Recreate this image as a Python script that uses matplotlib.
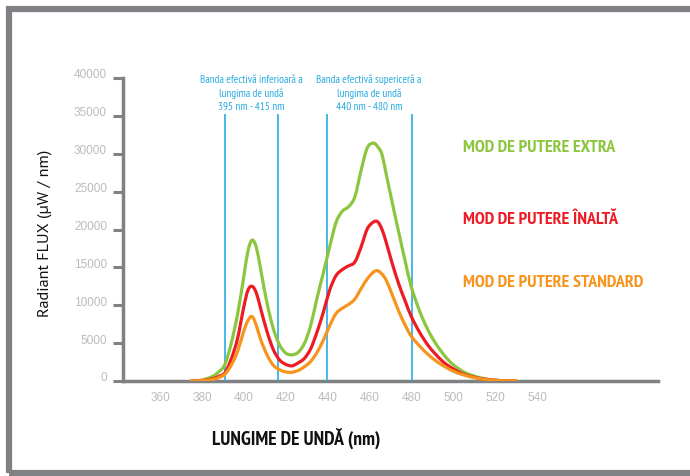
import matplotlib
matplotlib.use("Agg")
import matplotlib.pyplot as plt
from matplotlib import font_manager
from matplotlib.patches import Rectangle, PathPatch
from matplotlib.path import Path
from matplotlib.transforms import ScaledTranslation

# ---------------- data ----------------
wavelength = [375, 380, 385, 388, 391, 394, 397, 400, 402, 404, 406, 408, 411, 414, 417,
              420, 423, 426, 429, 432, 435, 438, 441, 444, 447, 450, 453, 456, 459, 462,
              464, 466, 468, 471, 474, 477, 480, 484, 488, 492, 496, 500, 505, 510, 515,
              520, 525, 530]
extra = [0, 120, 600, 1200, 2200, 5000, 8800, 13800, 17200, 18600, 17600, 14800, 10400, 7000, 4800,
         3700, 3450, 3800, 5000, 7400, 11000, 14300, 17700, 20900, 22400, 23000, 24300, 27800, 30800, 31400,
         30900, 29900, 27300, 23400, 19600, 15900, 12400, 9200, 6700, 4800, 3300, 2150, 1200, 650, 300,
         120, 30, 0]
inalta = [0, 60, 300, 600, 1100, 2900, 5600, 9800, 12000, 12500, 11600, 9600, 6600, 4200, 2800,
          2200, 2000, 2400, 3000, 4300, 6500, 9100, 12000, 13900, 14700, 15200, 15700, 17700, 20100, 21000,
          21000, 20000, 18300, 15400, 12800, 10600, 8500, 6400, 4700, 3400, 2350, 1600, 900, 500, 250,
          100, 20, 0]
standard = [0, 40, 200, 450, 900, 2100, 3900, 6600, 8000, 8500, 7300, 5500, 3500, 2100, 1500,
            1200, 1150, 1400, 1900, 2600, 3800, 5400, 7300, 8900, 9600, 10100, 10800, 12200, 13500, 14400,
            14550, 14100, 13300, 11300, 9200, 7400, 5900, 4600, 3500, 2600, 1900, 1300, 800, 450, 220,
            90, 20, 0]
band_lines = [391, 416.5, 439.5, 480.3]
xticks = [360, 380, 400, 420, 440, 460, 480, 500, 520, 540]
yticks = [0, 5000, 10000, 15000, 20000, 25000, 30000, 35000, 40000]
series_names = ["MOD DE PUTERE EXTRA", "MOD DE PUTERE ÎNALTĂ", "MOD DE PUTERE STANDARD"]
band_texts = ["Banda efectivă inferioară a\nlungima de undă\n395 nm - 415 nm",
              "Banda efectivă supericeră a\nlungima de undă\n440 nm - 480 nm"]

# ---------------- fonts ----------------
names = {f.name for f in font_manager.fontManager.ttflist}

def pick(cands):
    for c in cands:
        if c in names:
            return [c, 'DejaVu Sans']
    return ['DejaVu Sans']

condensed = pick(['PT Sans Narrow', 'Fira Sans Condensed', 'Roboto Condensed', 'Open Sans Condensed',
                  'Archivo Narrow', 'Encode Sans Condensed', 'Asap Condensed', 'Barlow Condensed',
                  'Liberation Sans Narrow'])
semi = pick(['PT Sans', 'Fira Sans', 'Open Sans', 'Noto Sans'])
helv = pick(['Liberation Sans', 'Arimo', 'DejaVu Sans'])
plt.rcParams['font.family'] = helv

W, H = 690, 477
fig = plt.figure(figsize=(W / 100, H / 100), dpi=100)

def fx(px):
    return px / W

def fy(py):
    return 1 - py / H

# frame
fig.patches.append(Rectangle((fx(9), fy(474)), fx(720) - fx(9), fy(10) - fy(474),
                             transform=fig.transFigure, fill=False,
                             edgecolor='#808184', linewidth=4.5))

ax = fig.add_axes([fx(123), fy(382), fx(658) - fx(123), fy(79) - fy(382)])
ax.set_xlim(342.3, 597.8)
ax.set_ylim(0, 40000)

green, red, orange, blue = '#8CC63F', '#ED1C24', '#F7941D', '#29ABE2'
gray = '#808184'

for xv in band_lines:
    ax.vlines(xv, 0, 35300, color=blue, linewidth=1.2, zorder=3)


def smooth_path(xs, ys):
    """Catmull-Rom spline through the data points, as cubic Bezier segments."""
    pts = list(zip(xs, ys))
    verts = [pts[0]]
    codes = [Path.MOVETO]
    n = len(pts)
    for i in range(n - 1):
        p0 = pts[i - 1] if i > 0 else pts[i]
        p1 = pts[i]
        p2 = pts[i + 1]
        p3 = pts[i + 2] if i + 2 < n else pts[i + 1]
        c1 = (p1[0] + (p2[0] - p0[0]) / 6, p1[1] + (p2[1] - p0[1]) / 6)
        c2 = (p2[0] - (p3[0] - p1[0]) / 6, p2[1] - (p3[1] - p1[1]) / 6)
        verts += [c1, c2, p2]
        codes += [Path.CURVE4] * 3
    return Path(verts, codes)


for ys, col, z in [(extra, green, 4), (inalta, red, 5), (standard, orange, 6)]:
    ax.add_patch(PathPatch(smooth_path(wavelength, ys), facecolor='none', edgecolor=col,
                           linewidth=2.3, zorder=z, capstyle='round', joinstyle='round'))

for s in ['top', 'right']:
    ax.spines[s].set_visible(False)
for s in ['left', 'bottom']:
    ax.spines[s].set_color(gray)
    ax.spines[s].set_linewidth(2.5)

ax.set_xticks(xticks)
ax.set_xticklabels([str(v) for v in xticks])
ax.set_yticks(yticks)
ax.set_yticklabels([str(v) for v in yticks])
ax.tick_params(axis='x', length=0, pad=7, labelsize=8.5, labelcolor='#BBBBBB')
ax.tick_params(axis='y', length=7.5, width=2.2, color=gray, pad=4, labelsize=8.5, labelcolor='#BBBBBB')
for lab in ax.get_yticklabels():
    lab.set_transform(lab.get_transform() + ScaledTranslation(0, 5 / 100, fig.dpi_scale_trans))

# band annotations
for xc, t in zip([251, 369], band_texts):
    fig.text(fx(xc), fy(93), t, color=blue, fontsize=8, ha='center', va='center',
             linespacing=1.35, family=condensed)

# series labels
for yc, t, col in zip([148, 220, 283], series_names, [green, red, orange]):
    fig.text(fx(463), fy(yc), t, color=col, fontsize=13, fontweight='bold',
             ha='left', va='center', family=condensed)

# axis labels
fig.text(fx(45), fy(233), "Radiant FLUX (μW / nm)", rotation=90, fontsize=11.7,
         ha='center', va='center', color='#111111', family=semi)
fig.text(fx(296), fy(438), "LUNGIME DE UNDĂ (nm)", fontsize=14, fontweight='bold',
         ha='center', va='center', color='#111111', family=condensed)

fig.savefig('out.png', dpi=100)
